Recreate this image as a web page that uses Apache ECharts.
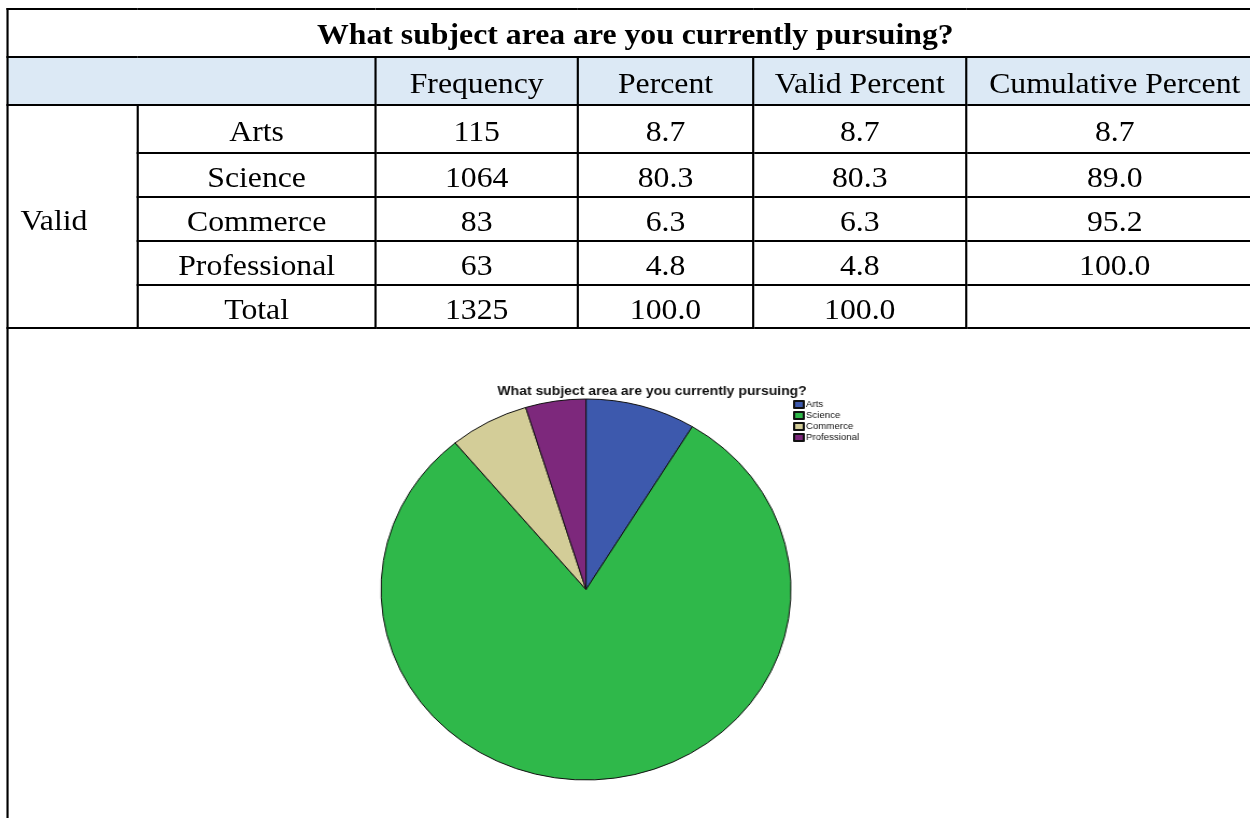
<!DOCTYPE html>
<html>
<head>
<meta charset="utf-8">
<script src="https://cdn.jsdelivr.net/npm/echarts@6/dist/echarts.min.js"></script>
<style>
  html, body { margin: 0; padding: 0; background: #fff; overflow: hidden; }
  /* the source picture is stretched sideways a little, so the whole page is too */
  #page {
    position: absolute; left: 0; top: 0;
    width: 1162px; height: 818px;
    transform: scaleX(1.076); transform-origin: 0 0;
  }
  #freqTable {
    position: absolute; left: 6px; top: 8px;
    border-collapse: collapse; table-layout: fixed;
    font-family: "Liberation Serif", "Times New Roman", serif;
    font-size: 29.5px; color: #000;
  }
  #freqTable td { border: 2px solid #000; padding: 5px 0 0 0; text-align: center; white-space: nowrap; }
  #freqTable .title { font-weight: bold; font-size: 29.5px; padding-top: 3px; }
  #freqTable .head td { background: #dce9f5; }
  #freqTable .valid { text-align: left; padding-left: 11px; padding-top: 8px; }
  #freqTable .chartCell { border-bottom: none; border-right: none; }
  #subjectChart { position: absolute; left: 0; top: 0; width: 1162px; height: 818px; z-index: 2; }
</style>
</head>
<body>
<div id="page">
  <table id="freqTable"></table>
  <div id="subjectChart"></div>
</div>
<script>
const chartTitle = "What subject area are you currently pursuing?";
const columns = ["Frequency", "Percent", "Valid Percent", "Cumulative Percent"];
const categories = ["Arts", "Science", "Commerce", "Professional"];
const frequency = [115, 1064, 83, 63];
const percent = ["8.7", "80.3", "6.3", "4.8"];
const validPercent = ["8.7", "80.3", "6.3", "4.8"];
const cumulativePercent = ["8.7", "89.0", "95.2", "100.0"];
const totalRow = ["1325", "100.0", "100.0", ""];
const colors = ["#3d59ad", "#2fb84a", "#d3cd98", "#7d287c"];

// table
const colWidths = [121, 221, 188, 163, 198, 276];
const rowHeights = [48, 48, 48, 44, 44, 44, 43];
const table = document.getElementById("freqTable");
table.style.width = colWidths.reduce((a, b) => a + b, 0) + "px";
let html = "<colgroup>" + colWidths.map(w => `<col style="width:${w}px">`).join("") + "</colgroup>";
html += `<tr style="height:${rowHeights[0]}px"><td class="title" colspan="6">${chartTitle}</td></tr>`;
html += `<tr class="head" style="height:${rowHeights[1]}px"><td colspan="2"></td>` +
  columns.map(c => `<td>${c}</td>`).join("") + "</tr>";
categories.forEach((c, i) => {
  html += `<tr style="height:${rowHeights[i + 2]}px">`;
  if (i == 0) html += `<td class="valid" rowspan="5">Valid</td>`;
  html += `<td>${c}</td><td>${frequency[i]}</td><td>${percent[i]}</td><td>${validPercent[i]}</td><td>${cumulativePercent[i]}</td></tr>`;
});
html += `<tr style="height:${rowHeights[6]}px"><td>Total</td>` + totalRow.map(v => `<td>${v}</td>`).join("") + "</tr>";
html += `<tr style="height:520px"><td class="chartCell" colspan="6"></td></tr>`;
table.innerHTML = html;

// pie
let myChart = echarts.init(document.getElementById("subjectChart"));
myChart.setOption({
  animation: false,
  color: colors,
  title: {
    text: chartTitle,
    left: 601, top: 380,
    textAlign: "center",
    textStyle: { fontFamily: "Liberation Sans, Arial", fontWeight: "bold", fontSize: 13, color: "#111" }
  },
  legend: {
    orient: "vertical",
    left: 737, top: 400,
    padding: 0,
    itemWidth: 9, itemHeight: 7, itemGap: 2,
    icon: "rect",
    data: categories,
    textStyle: { fontFamily: "Liberation Sans, Arial", fontSize: 9, color: "#111", padding: [0, 0, 0, -3] }
  },
  series: [{
    type: "pie",
    center: [544.6, 589.5],
    radius: 190.5,
    startAngle: 90,
    clockwise: true,
    label: { show: false },
    labelLine: { show: false },
    emphasis: { disabled: true },
    itemStyle: { borderColor: "#111", borderWidth: 1 },
    data: categories.map((c, i) => ({ name: c, value: frequency[i] }))
  }]
});
</script>
</body>
</html>
